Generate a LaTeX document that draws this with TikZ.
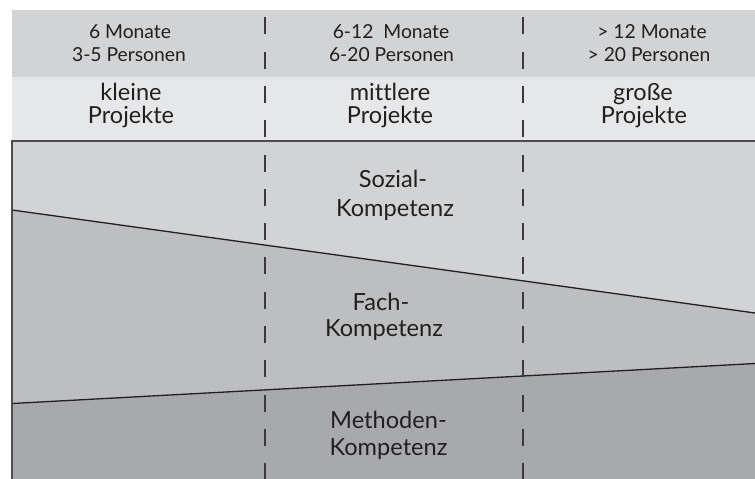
\documentclass[tikz,border=0pt]{standalone}
\usepackage{fontspec}
\setmainfont[Ligatures={NoCommon}]{Lato}
\definecolor{bandtop}{HTML}{D1D3D4}
\definecolor{bandsub}{HTML}{E6E7E8}
\definecolor{zonesoz}{HTML}{D1D3D4}
\definecolor{zonefach}{HTML}{BCBEC0}
\definecolor{zonemeth}{HTML}{A7A9AC}
\definecolor{ink}{HTML}{231F20}
\definecolor{frame}{HTML}{4D4D4F}
\definecolor{divider}{HTML}{3A3A3C}
\tikzset{
  headtxt/.style={anchor=base, inner sep=0pt, text=ink, font=\fontsize{19.3}{23}\selectfont},
  sizetxt/.style={anchor=base, inner sep=0pt, text=ink, font=\fontsize{23.5}{28}\selectfont},
  zonetxt/.style={anchor=base, inner sep=0pt, text=ink, font=\fontsize{23.6}{28}\selectfont},
  boundary/.style={draw=ink, line width=1.3pt},
  frameline/.style={draw=frame, line width=1.7pt},
  colsep/.style={draw=divider, line width=1.3pt, dash pattern=on 17pt off 17.3pt}
}
\begin{document}
\begin{tikzpicture}[x=1pt, y=-1pt]
\useasboundingbox (0,0) rectangle (755,479);

% corner points of the bands and zones
\coordinate (tl) at (12,10);
\coordinate (tr) at (755,10);
\coordinate (ml) at (12,76.7);
\coordinate (mr) at (755,76.7);
\coordinate (fl) at (12,141);
\coordinate (fr) at (755,141);
\coordinate (ul) at (12,210);
\coordinate (ur) at (755,313);
\coordinate (ll) at (12,403.5);
\coordinate (lr) at (755,363.5);
\coordinate (bl) at (12,479);
\coordinate (br) at (755,479);

% header bands
\fill[bandtop] (tl) rectangle (mr);
\fill[bandsub] (ml) rectangle (fr);

% competence zones
\fill[zonesoz] (fl) -- (fr) -- (ur) -- (ul) -- cycle;
\fill[zonefach] (ul) -- (ur) -- (lr) -- (ll) -- cycle;
\fill[zonemeth] (ll) -- (lr) -- (br) -- (bl) -- cycle;

% zone boundaries
\draw[boundary] (ul) -- (ur);
\draw[boundary] (ll) -- (lr);

% frame on the left and top of the zones
\draw[frameline] (bl) -- (fl) -- (fr);

% column separators
\coordinate (s1t) at (265,17.3);
\coordinate (s1b) at (265,479);
\coordinate (s2t) at (523,17.3);
\coordinate (s2b) at (523,479);
\draw[colsep] (s1t) -- (s1b);
\draw[colsep] (s2t) -- (s2b);

% duration and team size
\node[headtxt] (d1a) at (130,38.3) {6 Monate};
\node[headtxt] (d1b) at (129,61) {3-5 Personen};
\node[headtxt] (d2a) at (391,38.3) {6-12\ \ Monate};
\node[headtxt] (d2b) at (391.5,61) {6-20 Personen};
\node[headtxt] (d3a) at (652,38.3) {> 12 Monate};
\node[headtxt] (d3b) at (649,61) {> 20 Personen};

% project size
\node[sizetxt] (p1a) at (131,100.7) {kleine};
\node[sizetxt] (p1b) at (131,123.3) {Projekte};
\node[sizetxt] (p2a) at (390,100.7) {mittlere};
\node[sizetxt] (p2b) at (390,123.3) {Projekte};
\node[sizetxt] (p3a) at (643,100.7) {große};
\node[sizetxt] (p3b) at (644,123.3) {Projekte};

% competence labels
\node[zonetxt] (k1a) at (393,187.3) {Sozial-};
\node[zonetxt] (k1b) at (395,216) {Kompetenz};
\node[zonetxt] (k2a) at (381,310) {Fach-};
\node[zonetxt] (k2b) at (384,336.7) {Kompetenz};
\node[zonetxt] (k3a) at (388.5,428) {Methoden-};
\node[zonetxt] (k3b) at (388.5,455) {Kompetenz};
\end{tikzpicture}
\end{document}
